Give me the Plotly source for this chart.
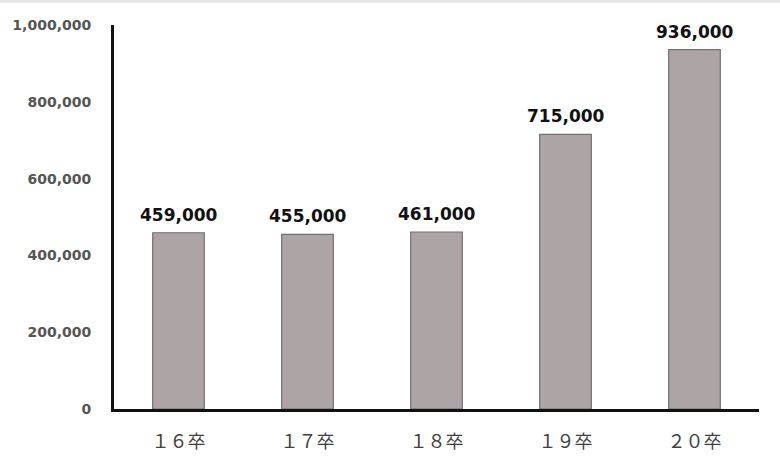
import plotly.graph_objects as go

categories = ["１６卒", "１７卒", "１８卒", "１９卒", "２０卒"]
values = [459000, 455000, 461000, 715000, 936000]
value_labels = ["459,000", "455,000", "461,000", "715,000", "936,000"]
tick_vals = [0, 200000, 400000, 600000, 800000, 1000000]
tick_text = ["0", "200,000", "400,000", "600,000", "800,000", "1,000,000"]

fig = go.Figure()
fig.add_trace(go.Bar(
    x=categories, y=values, width=0.4,
    marker=dict(color="#ada5a5", line=dict(color="#707070", width=1.2)),
    hoverinfo="skip",
))
for c, v, t in zip(categories, values, value_labels):
    fig.add_annotation(x=c, y=v, text=t, showarrow=False, yanchor="bottom", yshift=6,
                       font=dict(family="DejaVu Sans", size=17, color="#111111", weight="bold"))

fig.add_shape(type="rect", xref="paper", yref="paper", x0=-0.3, x1=1.1, y0=1.058, y1=1.2,
              fillcolor="#e6e6e6", line=dict(width=0), layer="below")

fig.update_layout(
    width=780, height=465,
    margin=dict(l=109, r=21, t=25, b=55),
    paper_bgcolor="white", plot_bgcolor="white",
    showlegend=False,
    xaxis=dict(showline=True, linecolor="#111111", linewidth=3, showgrid=False, ticks="",
               tickfont=dict(family="Noto Sans CJK JP", size=18, color="#404040"),
               ticklabelstandoff=14),
    yaxis=dict(range=[0, 1000000], tickvals=tick_vals, ticktext=tick_text,
               showline=True, linecolor="#111111", linewidth=3, showgrid=False, ticks="",
               zeroline=False,
               tickfont=dict(family="DejaVu Sans", size=14, color="#555555", weight="bold"),
               ticklabelstandoff=17),
)
fig.write_html("out.html", config={"displayModeBar": False},
               post_script="document.body.style.margin='0px';")
